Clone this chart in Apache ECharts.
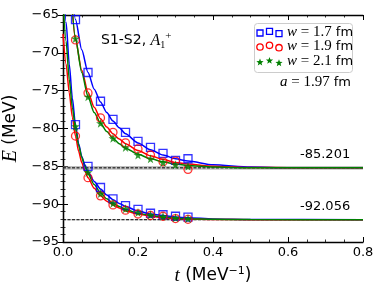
<!DOCTYPE html>
<html><head><meta charset="utf-8">
<script src="https://cdn.jsdelivr.net/npm/echarts@6/dist/echarts.min.js"></script>
<style>html,body{margin:0;padding:0;background:#fff}#c{width:382px;height:286px}</style>
</head><body><div id="c"></div>
<script>
// ---- data ----
const tPoints = [0.0333,0.0667,0.1,0.1333,0.1667,0.2,0.2333,0.2667,0.3,0.3333];
const w17Upper = [-65.6,-72.6,-76.4,-78.8,-80.5,-81.7,-82.5,-83.3,-84.2,-84.0];
const w19Upper = [-68.3,-75.3,-78.6,-80.5,-81.9,-82.7,-83.5,-84.4,-84.3,-85.4];
const w21Upper = [-68.1,-75.8,-79.3,-81.3,-82.5,-83.5,-84.0,-84.5,-84.8,-85.0];
const w17Lower = [-79.5,-85.0,-87.8,-89.3,-90.2,-90.7,-91.2,-91.4,-91.6,-91.7];
const w19Lower = [-81.0,-86.5,-88.9,-90.1,-90.8,-91.3,-91.5,-91.6,-91.9,-92.0];
const w21Lower = [-79.7,-85.8,-88.6,-89.9,-90.6,-91.1,-91.4,-91.6,-91.8,-91.9];

const curveT_up = [0.02,0.0333,0.05,0.0667,0.0833,0.1,0.1167,0.1333,0.15,0.1667,0.2,0.2333,0.2667,0.3,0.3333,0.4,0.5,0.6,0.8];
const fit17Upper = [-58.5,-65.6,-69.6,-72.6,-74.8,-76.5,-77.9,-79.0,-79.9,-80.7,-81.9,-82.8,-83.5,-84.0,-84.3,-84.8,-85.1,-85.18,-85.2];
const fit19Upper = [-61.0,-68.3,-72.3,-75.2,-77.2,-78.7,-79.8,-80.7,-81.4,-82.0,-82.9,-83.6,-84.1,-84.5,-84.7,-85.0,-85.15,-85.19,-85.2];
const fit21Upper = [-61.0,-68.1,-72.6,-75.8,-77.9,-79.3,-80.4,-81.3,-82.0,-82.6,-83.4,-84.0,-84.4,-84.7,-84.9,-85.1,-85.18,-85.2,-85.2];

const curveT_lo = [0,0.0083,0.0167,0.025,0.0333,0.0417,0.05,0.0583,0.0667,0.0833,0.1,0.1167,0.1333,0.15,0.1667,0.2,0.2333,0.2667,0.3,0.3333,0.4,0.5,0.8];
const fit17Lower = [-59.0,-66.0,-71.5,-76.0,-79.5,-82.0,-83.7,-84.8,-85.7,-87.0,-88.0,-88.8,-89.4,-89.9,-90.3,-90.9,-91.3,-91.5,-91.7,-91.8,-91.95,-92.02,-92.056];
const fit19Lower = [-67.5,-71.5,-75.3,-78.5,-81.0,-83.0,-84.5,-85.6,-86.5,-87.9,-88.9,-89.6,-90.1,-90.5,-90.9,-91.3,-91.6,-91.8,-91.9,-91.97,-92.02,-92.05,-92.056];
const fit21Lower = [-63.0,-68.5,-73.5,-77.2,-80.0,-82.2,-83.8,-85.0,-86.0,-87.4,-88.5,-89.3,-89.9,-90.3,-90.7,-91.2,-91.5,-91.7,-91.85,-91.93,-92.0,-92.04,-92.056];

const plateaus = [-85.201, -92.056];
const plateauBands = [[-85.45,-84.95],[-92.12,-92.0]];
const xTicks = [0,0.2,0.4,0.6,0.8];
const yTicks = [-95,-90,-85,-80,-75,-70,-65];

const colors = {w17:'#0000ff', w19:'#ff0000', w21:'#008000'};
const star = 'path://M50,0 L61,35 L98,35 L68,57 L79,91 L50,70 L21,91 L32,57 L2,35 L39,35 Z';

function pairs(t, v){ return t.map((x,i)=>[x,v[i]]); }
const minus = v => String(v).replace('-', '\u2212');

const sans = 'DejaVu Sans';
const serif = 'Liberation Serif';

function curve(t, v, c){
  return {type:'line', data:pairs(t,v), showSymbol:false, smooth:0.25, smoothMonotone:'x',
    lineStyle:{color:c,width:1.5}, clip:true, z:3, silent:true};
}
function scatter(vals, c, kind){
  const base = {type:'scatter', data:pairs(tPoints.concat(tPoints), vals), z:5, silent:true};
  if(kind==='sq') return Object.assign(base,{symbol:'rect', symbolSize:8, itemStyle:{color:'rgba(0,0,0,0)', borderColor:c, borderWidth:1.3}});
  if(kind==='ci') return Object.assign(base,{symbol:'circle', symbolSize:8, itemStyle:{color:'rgba(0,0,0,0)', borderColor:c, borderWidth:1.3}});
  return Object.assign(base,{symbol:star, symbolSize:9, itemStyle:{color:c}});
}

const chart = echarts.init(document.getElementById('c'), null, {renderer:'canvas'});

const axisCommon = {
  axisLine:{show:true, lineStyle:{color:'#000', width:1.3}},
  splitLine:{show:false},
  axisTick:{show:true, inside:true, length:5, lineStyle:{color:'#000', width:1}},
};
const xMinor = {minorTick:{show:true, splitNumber:4, length:2.5, lineStyle:{color:'#000', width:0.8}}};
const yMinor = {minorTick:{show:true, splitNumber:5, length:2.5, lineStyle:{color:'#000', width:0.8}}};

const option = {
  animation:false,
  backgroundColor:'#fff',
  grid:{left:63, right:19, top:15, bottom:44, containLabel:false, outerBoundsMode:'none'},
  xAxis:[
    Object.assign({type:'value', min:0, max:0.8, interval:0.2, position:'bottom',
      axisLabel:{formatter:v=>v.toFixed(1), fontFamily:sans, fontSize:13, color:'#000', margin:4},
      name:'{i|t} (MeV{sup|\u22121})', nameLocation:'middle', nameGap:24,
      nameTextStyle:{fontFamily:sans, fontSize:17, color:'#000',
        rich:{i:{fontFamily:serif, fontStyle:'italic', fontSize:19, color:'#000'},
              sup:{fontSize:11, verticalAlign:'top', padding:[0,0,8,0], color:'#000', fontFamily:sans}}}
    }, axisCommon, xMinor),
    Object.assign({type:'value', min:0, max:0.8, interval:0.2, position:'top', axisLabel:{show:false}}, axisCommon, xMinor)
  ],
  yAxis:[
    Object.assign({type:'value', min:-95, max:-65, interval:5, position:'left',
      axisLabel:{formatter:minus, fontFamily:sans, fontSize:13, color:'#000', margin:4},
      name:'{i|E} (MeV)', nameLocation:'middle', nameGap:37, nameRotate:90,
      nameTextStyle:{fontFamily:sans, fontSize:17, color:'#000',
        rich:{i:{fontFamily:serif, fontStyle:'italic', fontSize:20, color:'#000'}}}
    }, axisCommon, yMinor),
    Object.assign({type:'value', min:-95, max:-65, interval:5, position:'right', axisLabel:{show:false}}, axisCommon, yMinor)
  ],
  series:[
    {type:'line', data:[[0,plateaus[0]],[0.8,plateaus[0]]], showSymbol:false, z:2, silent:true,
      lineStyle:{color:'#000', width:1, type:[3,1.5]},
      markArea:{silent:true, itemStyle:{color:'rgba(140,140,140,0.55)'},
        data:[[{yAxis:plateauBands[0][0]},{yAxis:plateauBands[0][1]}],[{yAxis:plateauBands[1][0]},{yAxis:plateauBands[1][1]}]]}},
    {type:'line', data:[[0,plateaus[1]],[0.8,plateaus[1]]], showSymbol:false, z:2, silent:true,
      lineStyle:{color:'#000', width:1, type:[3,1.5]}},
    curve(curveT_up, fit17Upper, colors.w17),
    curve(curveT_up, fit19Upper, colors.w19),
    curve(curveT_up, fit21Upper, colors.w21),
    curve(curveT_lo, fit17Lower, colors.w17),
    curve(curveT_lo, fit19Lower, colors.w19),
    curve(curveT_lo, fit21Lower, colors.w21),
    scatter(w17Upper.concat(w17Lower), colors.w17, 'sq'),
    scatter(w19Upper.concat(w19Lower), colors.w19, 'ci'),
    scatter(w21Upper.concat(w21Lower), colors.w21, 'st'),
  ]
};
chart.setOption(option);

// ---- annotations & legend ----
const g = [];
g.push({type:'text', left:101, top:31, style:{
  text:'S1-S2, {i|A}{sub|1}{sup|+}', fontFamily:sans, fontSize:14, fill:'#000',
  rich:{i:{fontFamily:serif, fontStyle:'italic', fontSize:16, fill:'#000'},
        sub:{fontFamily:serif, fontSize:10, verticalAlign:'bottom', padding:[6,0,0,0], fill:'#000'},
        sup:{fontFamily:serif, fontSize:11, verticalAlign:'top', padding:[0,0,8,0], fill:'#000'}}}});
g.push({type:'rect', shape:{x:254.5, y:23.5, width:98, height:49, r:3}, style:{fill:'rgba(255,255,255,0.85)', stroke:'#cccccc', lineWidth:1}, z:10});
const legendRows = [
  {y:33, c:colors.w17, kind:'sq', label:'1.7'},
  {y:47, c:colors.w19, kind:'ci', label:'1.9'},
  {y:62, c:colors.w21, kind:'st', label:'2.1'},
];
const lx = [260, 269.5, 279], ly = [0, -1.7, 0.7];
legendRows.forEach(r=>{
  lx.forEach((x,i)=>{
    const y = r.y + ly[i];
    if(r.kind==='sq') g.push({type:'rect', z:11, shape:{x:x-3, y:y-3, width:6, height:6}, style:{fill:'none', stroke:r.c, lineWidth:1.3}});
    else if(r.kind==='ci') g.push({type:'circle', z:11, shape:{cx:x, cy:y, r:3.2}, style:{fill:'none', stroke:r.c, lineWidth:1.3}});
    else {
      const pts=[]; for(let k=0;k<10;k++){const a=-Math.PI/2+k*Math.PI/5; const rr=k%2?1.6:3.8; pts.push([x+rr*Math.cos(a), y+0.4+rr*Math.sin(a)]);}
      g.push({type:'polygon', z:11, shape:{points:pts}, style:{fill:r.c}});
    }
  });
  g.push({type:'text', z:11, left:287, top:r.y-8, style:{text:'{i|w}{m| = '+r.label+'} fm', fontFamily:sans, fontSize:13, fill:'#000',
    rich:{i:{fontFamily:serif, fontStyle:'italic', fontSize:15, fill:'#000'}, m:{fontFamily:serif, fontSize:15, fill:'#000'}}}});
});
g.push({type:'text', right:31, top:75, style:{text:'{i|a}{m| = 1.97} fm', fontFamily:sans, fontSize:13, fill:'#000', align:'right',
  rich:{i:{fontFamily:serif, fontStyle:'italic', fontSize:15, fill:'#000'}, m:{fontFamily:serif, fontSize:15, fill:'#000'}}}, z:11});
g.push({type:'text', left:300, top:148, style:{text:'-85.201', fontFamily:sans, fontSize:13, fill:'#000'}, z:11});
g.push({type:'text', left:300, top:200, style:{text:'-92.056', fontFamily:sans, fontSize:13, fill:'#000'}, z:11});
chart.setOption({graphic:g});
</script></body></html>
